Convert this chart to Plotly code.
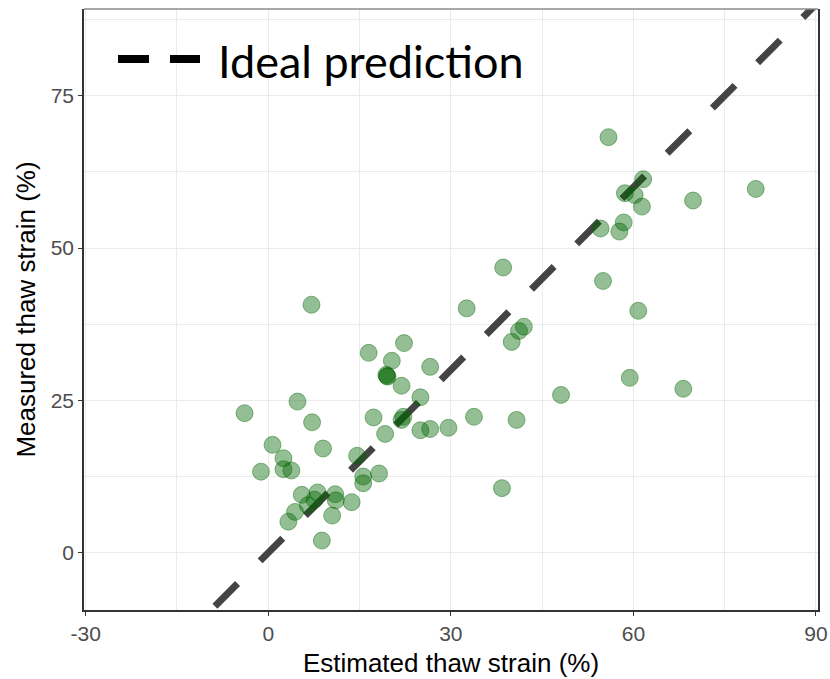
import plotly.graph_objects as go

# Estimated vs measured thaw strain (%) for each sample
estimated = [
    55.9, 61.6, 60.2, 58.6, 61.4, 69.8, 80.1, 58.4, 57.7, 54.6,
    38.6, 55.0, 32.6, 60.8, 42.0, 41.2, 40.0, 59.4, 68.2, 48.1,
    33.8, 40.8, 38.4,
    7.1, 16.5, 22.3, 20.3, 26.6, 19.4, 19.6, 19.5, 21.9, 25.0,
    4.8, -3.9, 7.2, 17.3, 22.2, 21.9, 19.2, 25.0, 26.6, 29.6,
    0.7, 9.0, 2.5, 2.5, 3.8, -1.2, 14.6, 18.2, 15.6, 15.6,
    5.5, 8.1, 11.0, 11.1, 13.7, 7.6, 6.5, 4.4, 3.3, 10.5, 8.8,
]
measured = [
    68.2, 61.3, 58.7, 59.0, 56.8, 57.8, 59.7, 54.2, 52.7, 53.2,
    46.8, 44.6, 40.1, 39.7, 37.1, 36.4, 34.6, 28.7, 26.9, 25.9,
    22.3, 21.8, 10.6,
    40.7, 32.8, 34.4, 31.5, 30.5, 29.2, 28.9, 29.0, 27.4, 25.5,
    24.8, 22.9, 21.4, 22.2, 22.3, 21.8, 19.5, 20.1, 20.3, 20.5,
    17.7, 17.1, 15.5, 13.7, 13.5, 13.3, 15.9, 13.0, 12.5, 11.4,
    9.5, 9.9, 9.6, 8.6, 8.3, 8.7, 7.8, 6.7, 5.1, 6.1, 2.0,
]

# 1:1 line (ideal prediction), extended past both axis ranges
ideal_ends = [-16.2, 100.0]

x_ticks = [-30, 0, 30, 60, 90]
y_ticks = [0, 25, 50, 75]
x_range = [-30.28, 90.33]
y_range = [-9.4, 89.23]

legend_label = "Ideal prediction"
x_title = "Estimated thaw strain (%)"
y_title = "Measured thaw strain (%)"

W, H = 830, 679
M_L, M_R, M_T, M_B = 84, 12, 9, 69
plot_w = W - M_L - M_R
plot_h = H - M_T - M_B


def px_to_paper(px, py):
    return (px - M_L) / plot_w, (H - M_B - py) / plot_h


fig = go.Figure()

fig.add_trace(go.Scatter(
    x=estimated, y=measured, mode="markers",
    marker=dict(size=17, color="rgba(0,100,0,0.42)",
                line=dict(width=1, color="rgba(0,100,0,0.42)")),
    showlegend=False, hoverinfo="skip",
))

# identity line, drawn between grid and points
fig.add_shape(type="line", xref="x", yref="y", layer="between",
              x0=ideal_ends[0], y0=ideal_ends[0],
              x1=ideal_ends[1], y1=ideal_ends[1],
              line=dict(color="#444444", width=7, dash="32px,32px"))

# lighter top edge of the panel frame
fig.add_shape(type="line", xref="paper", yref="paper", layer="above",
              x0=0, y0=1, x1=1, y1=1,
              line=dict(color="#8a8a8a", width=1.3))

# legend key and label
lx0, ly = px_to_paper(118, 59)
lx1, _ = px_to_paper(200, 59)
fig.add_shape(type="line", xref="paper", yref="paper",
              x0=lx0, y0=ly, x1=lx1, y1=ly,
              line=dict(color="black", width=8, dash="31px,21px"))
tx, ty = px_to_paper(216, 61)
fig.add_annotation(xref="paper", yref="paper", x=tx, y=ty,
                   xanchor="left", yanchor="middle", showarrow=False,
                   text=legend_label,
                   font=dict(family="Lato", size=45, color="black"))

axis_common = dict(
    showgrid=True, gridcolor="#ebebeb", gridwidth=1.1,
    zeroline=False, showline=True,
    linecolor="#333333", linewidth=1.6,
    ticks="outside", ticklen=4, tickwidth=1.3, tickcolor="#333333",
    tickfont=dict(family="Liberation Sans, Arial", size=21, color="#4d4d4d"),
)

fig.update_xaxes(
    range=x_range, tickvals=x_ticks, ticktext=[str(v) for v in x_ticks],
    mirror=False,
    minor=dict(dtick=15, tick0=-30, showgrid=True, gridcolor="#ebebeb",
               gridwidth=0.7, ticks=""),
    title=dict(text=x_title, standoff=10,
               font=dict(family="Liberation Sans, Arial", size=26, color="black")),
    **axis_common,
)
fig.update_yaxes(
    range=y_range, tickvals=y_ticks, ticktext=[str(v) for v in y_ticks],
    mirror=True,
    minor=dict(dtick=12.5, tick0=0, showgrid=True, gridcolor="#ebebeb",
               gridwidth=0.7, ticks=""),
    title=dict(text=y_title, standoff=8,
               font=dict(family="Liberation Sans, Arial", size=26, color="black")),
    **axis_common,
)

fig.update_layout(
    width=W, height=H,
    margin=dict(l=M_L, r=M_R, t=M_T, b=M_B, autoexpand=False),
    plot_bgcolor="white", paper_bgcolor="white",
    showlegend=False,
)

fig.write_html("out.html")
